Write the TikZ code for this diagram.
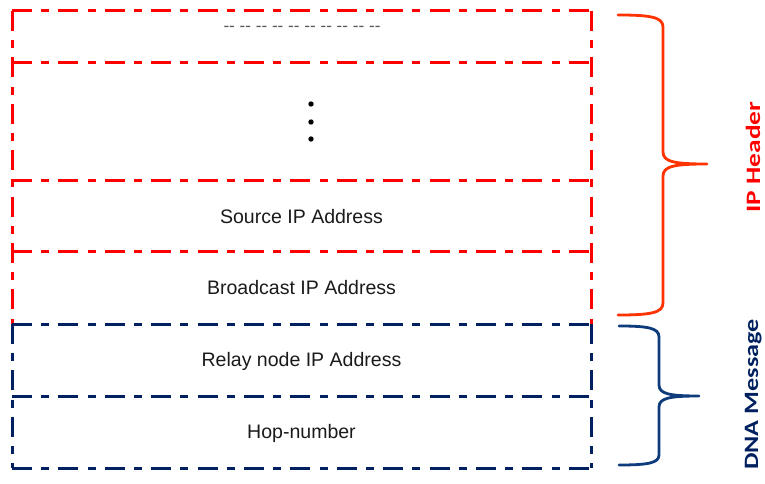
\documentclass[tikz,border=0pt]{standalone}
\usepackage{fontspec}
\usepackage{graphicx}
\setmainfont{Liberation Sans}
\newfontfamily\rulefont{Liberation Sans}
\newfontfamily\labelfont{Carlito}
\definecolor{boxred}{HTML}{FF0000}
\definecolor{boxnavy}{HTML}{002060}
\definecolor{bracered}{HTML}{FF3300}
\definecolor{bracenavy}{HTML}{0E3B7C}
\definecolor{textgray}{HTML}{1A1A1A}
\definecolor{dashgray}{HTML}{595959}
\begin{document}
\begin{tikzpicture}[x=1bp,y=-1bp,
  dashdot/.style={dash pattern=on 20bp off 9.2bp on 8bp off 9.2bp},
  field/.style={minimum width=579bp,
    inner sep=0pt, outer sep=0pt, anchor=north west,
    text height=13.5bp, text depth=0pt, text=textgray,
    font=\fontsize{19.6}{21}\selectfont},
  rule/.style={dashdot, line width=3bp},
  dot/.style={circle, fill=black, inner sep=0pt, minimum size=5.4bp},
  brace/.style={line width=2.8bp, line cap=round, line join=round},
  side/.style={rotate=90, anchor=base, inner sep=0pt,
    font=\labelfont\bfseries\fontsize{20.5}{22}\selectfont}
]
\useasboundingbox (0,0) rectangle (765,484);

% header fields
\node[field, minimum height=52bp]  (f1) at (12,11)  {};
\node[field, minimum height=118bp] (f2) at (12,63)  {};
\node[field, minimum height=71bp]  (f3) at (12,181) {Source IP Address};
\node[field, minimum height=72bp]  (f4) at (12,252) {Broadcast IP Address};
% message fields
\node[field, minimum height=72bp]  (f5) at (12,324) {Relay node IP Address};
\node[field, minimum height=72bp]  (f6) at (12,396) {Hop-number};

% field outlines: header part in red
\draw[rule, draw=boxred] (f1.north west) -- (f1.north east);
\draw[rule, draw=boxred] (f2.north west) -- (f2.north east);
\draw[rule, draw=boxred] (f3.north west) -- (f3.north east);
\draw[rule, draw=boxred] (f4.north west) -- (f4.north east);
\draw[rule, draw=boxred] (f1.north west) -- (f4.south west);
\draw[rule, draw=boxred] (f1.north east) -- (f4.south east);
% message part in navy
\draw[rule, draw=boxnavy] (f5.north west) -- (f5.north east);
\draw[rule, draw=boxnavy] (f6.north west) -- (f6.north east);
\draw[rule, draw=boxnavy] (f6.south west) -- (f6.south east);
\draw[rule, draw=boxnavy] (f5.north west) -- (f6.south west);
\draw[rule, draw=boxnavy] (f5.north east) -- (f6.south east);

% placeholder rule in the first field
\node[anchor=base, inner sep=0pt, text=dashgray,
  font=\rulefont\fontsize{17.2}{18}\selectfont] (gap) at (302,31.3)
  {-- -- -- -- -- -- -- -- -- --};

% vertical ellipsis
\node[dot] (d1) at (311,104) {};
\node[dot] (d2) at (311,122) {};
\node[dot] (d3) at (311,139) {};

% braces
\draw[brace, draw=bracered] (618,15)
  .. controls (650,15) and (663,17) .. (663,27) -- (663,152)
  .. controls (663,162) and (675,164) .. (707,164)
  .. controls (675,164) and (663,166) .. (663,176) -- (663,303)
  .. controls (663,313) and (650,315) .. (618,315);
\draw[brace, draw=bracenavy] (619,326)
  .. controls (648,326) and (659,328) .. (659,337) -- (659,385)
  .. controls (659,394) and (670,396) .. (699,396)
  .. controls (670,396) and (659,398) .. (659,407) -- (659,455)
  .. controls (659,463) and (648,465) .. (619,465);

% side labels
\node[side, text=boxred]  (iph) at (760,157)   {\scalebox{1.34}[1]{IP Header}};
\node[side, text=boxnavy] (dna) at (758,394.5) {\scalebox{1.28}[1]{DNA Message}};
\end{tikzpicture}
\end{document}
